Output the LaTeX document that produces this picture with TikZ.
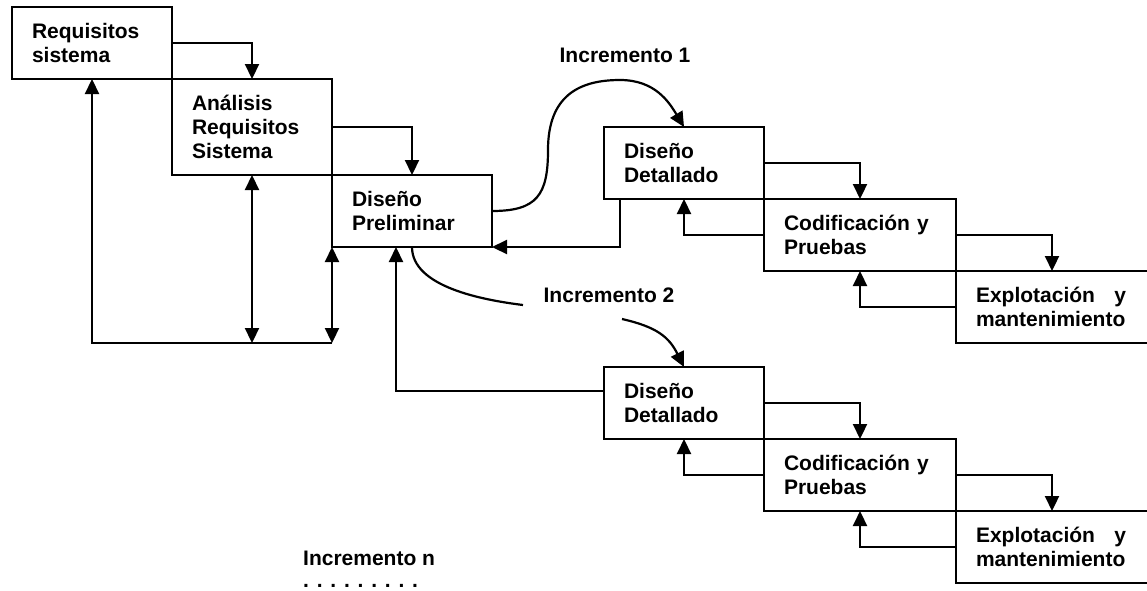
\documentclass[tikz,border=0pt]{standalone}
\usepackage{fontspec}
\setmainfont{Liberation Sans}
\usepackage{tikz}
\usetikzlibrary{positioning, arrows.meta}
\tikzstyle{phase} = [rectangle, draw=black, line width=2.2pt, outer sep=0pt, inner xsep=20pt, inner ysep=0pt, minimum height=72pt, text width=120pt, align=left, font=\fontsize{21}{24}\selectfont\bfseries]
\tikzstyle{wide} = [text width=152pt]
\tikzstyle{arrow} = [line width=2.2pt, -{Triangle[length=15pt,width=14pt]}]
\tikzstyle{twoway} = [line width=2.2pt, {Triangle[length=15pt,width=14pt]}-{Triangle[length=15pt,width=14pt]}]
\tikzstyle{link} = [line width=2.2pt]
\tikzstyle{inc} = [inner sep=0pt, font=\fontsize{21}{24}\selectfont\bfseries]

\begin{document}
\begin{tikzpicture}[x=1pt, y=-1pt]
    \useasboundingbox (0,0) rectangle (1147,590);
        \node (req) [phase, anchor=north west] at (12,7) {Requisitos\\sistema};
        \node (ana) [phase, below right=0pt of req, minimum height=96pt] {Análisis\\Requisitos\\Sistema};
        \node (pre) [phase, below right=0pt of ana] {Diseño\\Preliminar};
        \node (det1) [phase, right=112pt of pre, yshift=48pt] {Diseño\\Detallado};
        \node (cod1) [phase, wide, below right=0pt of det1] {Codificación y\\Pruebas};
        \node (exp1) [phase, wide, below right=0pt of cod1] {\makebox[150pt]{Explotación\hfill y}\\mantenimiento};
        \node (det2) [phase, below=168pt of det1] {Diseño\\Detallado};
        \node (cod2) [phase, wide, below right=0pt of det2] {Codificación y\\Pruebas};
        \node (exp2) [phase, wide, below right=0pt of cod2] {\makebox[150pt]{Explotación\hfill y}\\mantenimiento};
        \node (inc1) [inc] at (625,55) {Incremento 1};
        \node (inc2) [inc] at (609,295) {Incremento 2};
        \node (incn) [inc, anchor=west] at (303,558) {Incremento n};
        \node (dots) [inc, anchor=base west] at (303,587) {. . . . . . . . .};
        \coordinate (loop) at ([yshift=-96pt]pre.south west);
        \coordinate (gap1) at (523,305);
        \coordinate (gap2) at (622,319);
        \draw [arrow] (req.east) -| (ana.north);
        \draw [arrow] (ana.east) -| (pre.north);
        \draw [arrow] (loop) -| (req.south);
        \draw [twoway] (ana.south) -- (ana.south |- loop);
        \draw [twoway] (pre.south west) -- (loop);
        \draw [arrow] (pre.east) .. controls +(45,0) and +(0,45) .. (548,150)
            .. controls +(0,-55) and +(-40,0) .. (620,80)
            .. controls +(35,0) and +(-15,-25) .. (det1.north);
        \draw [link] (pre.south) .. controls +(0,40) and +(-40,-5) .. (gap1);
        \draw [arrow] (gap2) .. controls +(35,8) and +(-15,-30) .. (det2.north);
        \draw [arrow] ([xshift=16pt]det1.south west) |- (pre.south east);
        \draw [arrow] ([yshift=12pt]det2.west) -| ([xshift=-16pt]pre.south);
        \draw [arrow] (det1.east) -| (cod1.north);
        \draw [arrow] (cod1.east) -| (exp1.north);
        \draw [arrow] (cod1.west) -| (det1.south);
        \draw [arrow] (exp1.west) -| (cod1.south);
        \draw [arrow] (det2.east) -| (cod2.north);
        \draw [arrow] (cod2.east) -| (exp2.north);
        \draw [arrow] (cod2.west) -| (det2.south);
        \draw [arrow] (exp2.west) -| (cod2.south);
    \end{tikzpicture}
\end{document}
